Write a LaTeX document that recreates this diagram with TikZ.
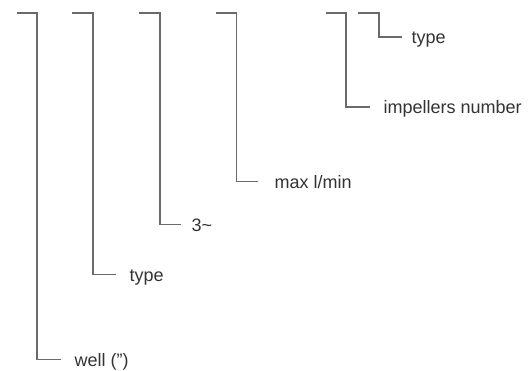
\documentclass[tikz,border=0pt]{standalone}
\usepackage{fontspec}
\setmainfont{Liberation Sans}
\usepackage{xcolor}
\usetikzlibrary{positioning,calc}
\definecolor{linegray}{HTML}{6A6A6A}
\definecolor{textgray}{HTML}{333333}

\begin{document}
\begin{tikzpicture}[x=1pt,y=-1pt,line width=1.2pt]
	\tikzstyle{lbl}=[anchor=base west,inner sep=0pt,text=textgray,font=\fontsize{18}{22}\selectfont]
	\tikzstyle{bracket}=[draw=linegray]
	\useasboundingbox (0,0) rectangle (528,371);

	% free ends at the top
	\coordinate (t1) at (17,13);
	\coordinate (t2) at (72,13);
	\coordinate (t3) at (139,13);
	\coordinate (t4) at (216,13);
	\coordinate (t5) at (326,13);
	\coordinate (t6) at (358,13);

	% labels
	\node[lbl] (well)  at (74,366.5)  {well (”)};
	\node[lbl] (type)  at (129,281.5) {type};
	\node[lbl] (phase) at (191,231.5) {3\textasciitilde};
	\node[lbl] (flow)  at (274,188.5) {max l/min};
	\node[lbl] (imp)   at (383,114)   {impellers number};
	\node[lbl] (typeb) at (411,44)    {type};

	\draw[bracket] (t1) -- ++(20,0) |- ([shift={(-13pt,7pt)}]well.base west);
	\draw[bracket] (t2) -- ++(21,0) |- ([shift={(-13pt,7pt)}]type.base west);
	\draw[bracket] (t3) -- ++(21,0) |- ([shift={(-10pt,7pt)}]phase.base west);
	\draw[bracket] (t4) -- ++(20.5,0) |- ([shift={(-16pt,7pt)}]flow.base west);
	\draw[bracket] (t5) -- ++(20,0) |- ([shift={(-13pt,7pt)}]imp.base west);
	\draw[bracket] (t6) -- ++(21,0) |- ([shift={(-9pt,7pt)}]typeb.base west);
\end{tikzpicture}
\end{document}
